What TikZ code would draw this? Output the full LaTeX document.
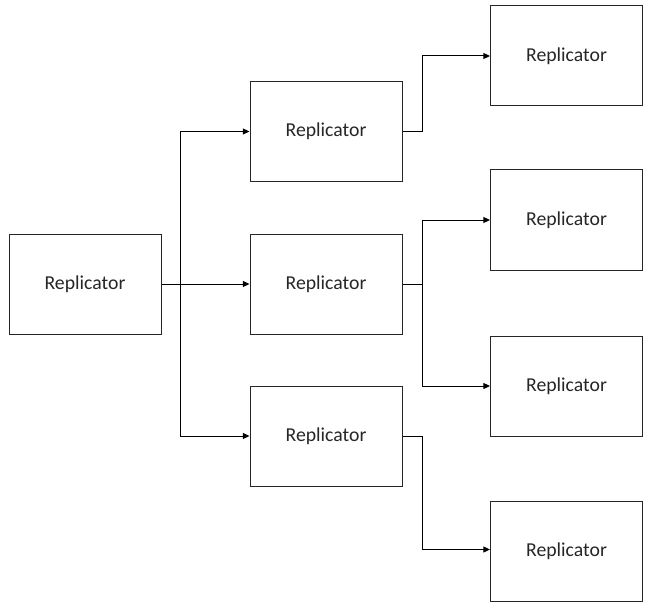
\documentclass[tikz,border=0pt]{standalone}
\usepackage{fontspec}
\setmainfont{Carlito}
\usetikzlibrary{arrows.meta}
\newcommand{\replabel}{\raisebox{-1.8pt}{Replicator}}
\begin{document}
\begin{tikzpicture}[x=0.75pt,y=-0.75pt,
  repbox/.style={draw=black!85, line width=0.75pt, minimum width=114pt, minimum height=75pt,
    inner sep=0pt, font=\fontsize{14.8pt}{17pt}\selectfont, text=black!85},
  link/.style={draw=black, line width=0.75pt},
  arr/.style={link, -{Triangle[length=5pt,width=4.5pt]}}]
\useasboundingbox (0,0) rectangle (645,602);
% replicator boxes
\node[repbox] (L)  at (85,284)    {\replabel};
\node[repbox] (M1) at (326,131.5) {\replabel};
\node[repbox] (M2) at (326,284)   {\replabel};
\node[repbox] (M3) at (326,436)   {\replabel};
\node[repbox] (R1) at (566.5,56)    {\replabel};
\node[repbox] (R2) at (566.5,220)   {\replabel};
\node[repbox] (R3) at (566.5,386)   {\replabel};
\node[repbox] (R4) at (566.5,551.5) {\replabel};
% branch points
\coordinate (jL) at (180,284);
\coordinate (j1) at (422,131.5);
\coordinate (j2) at (422,284);
\coordinate (j3) at (422,436);
% first split
\draw[link] (L.east) -- (jL);
\draw[arr] (jL) |- (M1.west);
\draw[arr] (jL) -- (M2.west);
\draw[arr] (jL) |- (M3.west);
% second split
\draw[arr] (M1.east) -- (j1) |- (R1.west);
\draw[link] (M2.east) -- (j2);
\draw[arr] (j2) |- (R2.west);
\draw[arr] (j2) |- (R3.west);
\draw[arr] (M3.east) -- (j3) |- ([yshift=1.5pt]R4.west);
\end{tikzpicture}
\end{document}
